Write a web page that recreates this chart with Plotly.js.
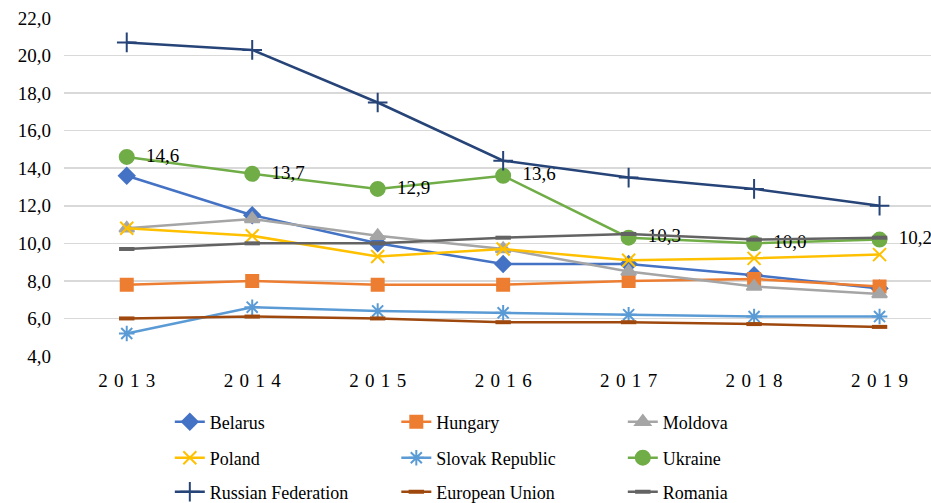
<!DOCTYPE html>
<html>
<head>
<meta charset="utf-8">
<script src="https://cdn.plot.ly/plotly-3.0.1.min.js"></script>
<style>
html,body{margin:0;padding:0;background:#fff;}
#chart{width:931px;height:503px;}
#chart text{font-family:"Liberation Serif", "Times New Roman", serif !important;}
</style>
</head>
<body>
<div id="chart"></div>
<script>
const years = ['2013','2014','2015','2016','2017','2018','2019'];
const belarus = [13.6, 11.5, 10.0, 8.9, 8.9, 8.3, 7.6];
const hungary = [7.8, 8.0, 7.8, 7.8, 8.0, 8.1, 7.7];
const moldova = [10.8, 11.3, 10.4, 9.7, 8.5, 7.7, 7.3];
const poland = [10.8, 10.4, 9.3, 9.7, 9.1, 9.2, 9.4];
const slovak = [5.2, 6.6, 6.4, 6.3, 6.2, 6.1, 6.1];
const ukraine = [14.6, 13.7, 12.9, 13.6, 10.3, 10.0, 10.2];
const russia = [20.7, 20.3, 17.5, 14.4, 13.5, 12.9, 12.0];
const eu = [6.0, 6.1, 6.0, 5.8, 5.8, 5.7, 5.55];
const romania = [9.7, 10.0, 10.0, 10.3, 10.5, 10.2, 10.3];
const yTicks = [4, 6, 8, 10, 12, 14, 16, 18, 20, 22];

const serifFam = 'Liberation Serif, serif';
const fmt = v => v.toFixed(1).replace('.', ',');
const spaced = s => s.split('').join('\u2004');

function tr(name, y, color, symbol, size, legend, extra) {
  const t = {
    type: 'scatter', mode: 'lines+markers', name: name, x: years, y: y,
    line: {color: color, width: 2.5},
    marker: {symbol: symbol, size: size, color: color, line: {color: color, width: 2}},
    legend: legend, cliponaxis: false
  };
  return Object.assign(t, extra || {});
}

const dashMarker = (c) => ({symbol: 'line-ew', size: 11, color: c, line: {color: c, width: 4}});

const data = [
  tr('Belarus', belarus, '#4472C4', 'diamond', 12, 'legend'),
  tr('Hungary', hungary, '#ED7D31', 'square', 12, 'legend'),
  tr('Moldova', moldova, '#A5A5A5', 'triangle-up', 13, 'legend'),
  tr('Poland', poland, '#FFC000', 'x-thin-open', 13, 'legend2'),
  tr('Slovak Republic', slovak, '#5B9BD5', 'asterisk-open', 13, 'legend2'),
  tr('Ukraine', ukraine, '#70AD47', 'circle', 14, 'legend2', {
    mode: 'lines+markers+text', text: ukraine.map(v => '\u2002' + fmt(v)), textposition: 'middle right',
    textfont: {family: serifFam, size: 19, color: '#000'}, cliponaxis: true
  }),
  tr('Russian Federation', russia, '#264478', 'cross-thin-open', 14, 'legend3'),
  Object.assign(tr('European Union', eu, '#9E480E', 'line-ew', 11, 'legend3'), {marker: dashMarker('#9E480E')}),
  Object.assign(tr('Romania', romania, '#636363', 'line-ew', 11, 'legend3'), {marker: dashMarker('#636363')})
];

const legendBase = (y) => ({
  orientation: 'h', xref: 'container', yref: 'container', x: 0.1824, xanchor: 'left',
  y: y, yanchor: 'middle', entrywidth: 181.5, entrywidthmode: 'pixels',
  font: {family: serifFam, size: 18, color: '#000'}, bgcolor: 'rgba(0,0,0,0)', borderwidth: 0,
  traceorder: 'normal', itemclick: false
});

const layout = {
  width: 931, height: 503,
  margin: {l: 64, r: 0, t: 17.5, b: 147},
  paper_bgcolor: '#fff', plot_bgcolor: '#fff',
  showlegend: true,
  font: {family: serifFam, size: 19, color: '#000'},
  xaxis: {
    type: 'category', range: [-0.5, 6.41], tickvals: years, ticktext: years.map(spaced),
    showgrid: false, zeroline: false, showline: false, ticks: '',
    tickfont: {family: serifFam, size: 19, color: '#000'}, ticklabelstandoff: 11
  },
  yaxis: {
    range: [4, 22], tickvals: yTicks, ticktext: yTicks.map(fmt),
    showgrid: true, gridcolor: '#d9d9d9', gridwidth: 1.5, zeroline: false, showline: false,
    ticks: '', tickfont: {family: serifFam, size: 19, color: '#000'}, ticklabelstandoff: 12
  },
  legend: legendBase(1 - 422/503),
  legend2: legendBase(1 - 458/503),
  legend3: legendBase(1 - 492/503)
};

Plotly.newPlot('chart', data, layout, {displayModeBar: false, staticPlot: true});
</script>
</body>
</html>
